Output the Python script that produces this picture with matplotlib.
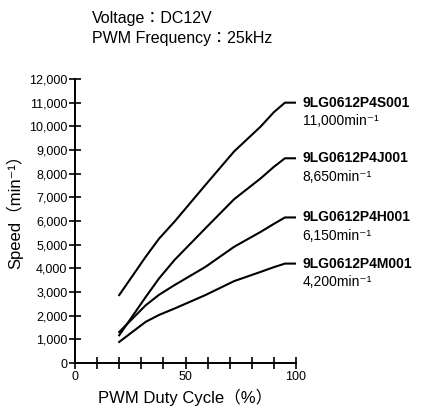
import numpy as np
import matplotlib
matplotlib.use("Agg")
import matplotlib.pyplot as plt
from matplotlib.ticker import MultipleLocator, FuncFormatter

plt.rcParams['font.family'] = ['Liberation Sans', 'DejaVu Sans', 'Noto Sans CJK JP']

# duty cycle (%) and speed (min-1)
duty = [20, 32, 38, 45, 59, 72, 84, 90, 95, 100]
speed_s = [2870, 4490, 5250, 5970, 7520, 8940, 9990, 10600, 11000, 11000]
speed_j = [1170, 2790, 3570, 4350, 5690, 6920, 7800, 8290, 8650, 8650]
speed_h = [1310, 2440, 2880, 3290, 4060, 4910, 5540, 5880, 6150, 6150]
speed_m = [890, 1740, 2030, 2300, 2870, 3460, 3850, 4050, 4200, 4200]

models = ["9LG0612P4S001", "9LG0612P4J001", "9LG0612P4H001", "9LG0612P4M001"]
max_speed = ["11,000", "8,650", "6,150", "4,200"]
series = [speed_s, speed_j, speed_h, speed_m]

fig = plt.figure(figsize=(4.25, 4.12), dpi=100)
ax = fig.add_axes([75 / 425, 49 / 412, 221 / 425, 284 / 412])

for ys in series:
    ax.plot(duty, ys, color="black", lw=1.5, solid_joinstyle="round")

for name, top, ys in zip(models, max_speed, series):
    ax.text(103, ys[-1], name, fontsize=10, fontweight="bold",
            va="center", ha="left", clip_on=False)
    ax.text(103, ys[-1] - 780, top + "min\u207b\u00b9", fontsize=10,
            va="center", ha="left", clip_on=False)

ax.set_xlim(0, 100)
ax.set_ylim(0, 12000)
ax.spines["top"].set_visible(False)
ax.spines["right"].set_visible(False)
ax.spines["left"].set_linewidth(1.4)
ax.spines["bottom"].set_linewidth(1.4)

ax.xaxis.set_major_locator(MultipleLocator(50))
ax.xaxis.set_minor_locator(MultipleLocator(10))
ax.yaxis.set_major_locator(MultipleLocator(1000))
ax.yaxis.set_major_formatter(FuncFormatter(lambda v, p: f"{int(v):,}"))
ax.tick_params(axis="both", which="both", direction="inout", length=8, width=1.2,
               labelsize=9)
ax.tick_params(axis="x", pad=2)
ax.tick_params(axis="y", pad=1.5)

fig.text(15 / 425, 1 - 208 / 412, "Speed（min\u207b\u00b9）", rotation=90,
         fontsize=12, ha="center", va="center")
fig.text(185 / 425, 1 - 397 / 412, "PWM Duty Cycle（%）", fontsize=12,
         ha="center", va="center")

fig.text(92 / 425, 1 - 18 / 412, "Voltage：DC12V", fontsize=11.5, va="center")
fig.text(92 / 425, 1 - 39 / 412, "PWM Frequency：25kHz", fontsize=11.5, va="center")

fig.savefig("out.png", dpi=100)
